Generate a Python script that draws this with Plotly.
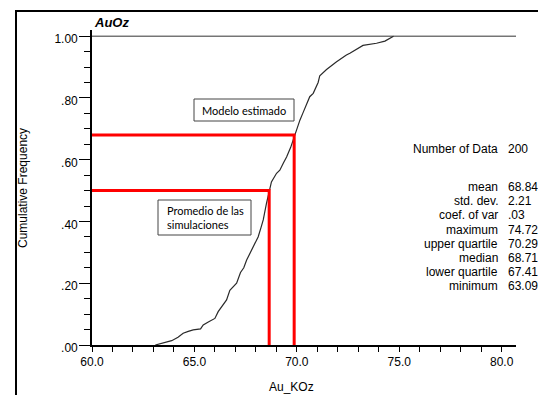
import plotly.graph_objects as go

# ---------------- data ----------------
au_koz = [63.09, 63.5, 63.89, 64.2, 64.45, 64.7, 64.94, 65.3, 65.43, 65.7, 66.0, 66.16,
          66.4, 66.57, 66.73, 66.9, 67.06, 67.25, 67.41, 67.55, 67.79, 67.95, 68.11, 68.25,
          68.36, 68.52, 68.65, 68.71, 68.76, 69.01, 69.17, 69.35, 69.5, 69.7, 69.87, 70.0,
          70.15, 70.29, 70.47, 70.63, 70.8, 70.96, 71.04, 71.12, 71.37, 71.45, 71.94, 72.2,
          72.42, 72.59, 73.07, 73.23, 73.89, 74.3, 74.72]
cum_freq = [0.0, 0.008, 0.014, 0.025, 0.038, 0.044, 0.049, 0.052, 0.065, 0.075, 0.086, 0.108,
            0.13, 0.146, 0.177, 0.19, 0.2, 0.235, 0.25, 0.275, 0.307, 0.328, 0.35, 0.38,
            0.405, 0.459, 0.5, 0.512, 0.528, 0.556, 0.566, 0.59, 0.609, 0.64, 0.675, 0.7,
            0.728, 0.75, 0.782, 0.804, 0.815, 0.838, 0.85, 0.872, 0.887, 0.892, 0.917, 0.93,
            0.939, 0.945, 0.963, 0.97, 0.977, 0.984, 1.0]

promedio_x, promedio_y = 68.65, 0.50   # "Promedio de las simulaciones"
modelo_x, modelo_y = 69.87, 0.68       # "Modelo estimado"

stat_labels = ["Number of Data", "mean", "std. dev.", "coef. of var", "maximum",
               "upper quartile", "median", "lower quartile", "minimum"]
stat_values = ["200", "68.84", "2.21", ".03", "74.72", "70.29", "68.71", "67.41", "63.09"]

x_tickvals = [60, 65, 70, 75, 80]
x_ticktext = ["60.0", "65.0", "70.0", "75.0", "80.0"]
y_tickvals = [0, 0.2, 0.4, 0.6, 0.8, 1.0]
y_ticktext = [".00", ".20", ".40", ".60", ".80", "1.00"]

# ---------------- layout geometry ----------------
W, H = 538, 395
ML, MR, MT, MB = 92, 22, 30, 50
PW, PH = W - ML - MR, H - MT - MB


def px(xp):
    return (xp - ML) / PW


def py(yp):
    return (H - MB - yp) / PH


FONT = "Liberation Sans, Arial, Helvetica, sans-serif"
BOXFONT = "Lato, Open Sans, sans-serif"

fig = go.Figure()

# line at 1.0
fig.add_trace(go.Scatter(x=[60, 80.7], y=[1.0, 1.0], mode="lines",
                         line=dict(color="#333333", width=1), hoverinfo="skip"))
# cumulative curve
fig.add_trace(go.Scatter(x=au_koz, y=cum_freq, mode="lines",
                         line=dict(color="#2a2a2a", width=1.2)))
# red guide lines
for gx, gy in [(promedio_x, promedio_y), (modelo_x, modelo_y)]:
    fig.add_trace(go.Scatter(x=[60, gx, gx], y=[gy, gy, 0], mode="lines",
                             line=dict(color="#ff0000", width=3), hoverinfo="skip"))

shapes = [
    # outer frame
    dict(type="rect", xref="paper", yref="paper", x0=px(16), x1=px(548), y0=py(11), y1=py(405),
         line=dict(color="black", width=2), fillcolor="rgba(0,0,0,0)", layer="below"),
    # text boxes
    dict(type="rect", xref="paper", yref="paper", x0=px(194), x1=px(294), y0=py(121), y1=py(99),
         line=dict(color="#444444", width=1), fillcolor="white"),
    dict(type="rect", xref="paper", yref="paper", x0=px(158), x1=px(251), y0=py(235), y1=py(200),
         line=dict(color="#444444", width=1), fillcolor="white"),
]

annotations = [
    dict(text="<b><i>AuOz</i></b>", xref="paper", yref="paper", x=px(92), y=py(22),
         xanchor="left", yanchor="middle", showarrow=False, font=dict(family=FONT, size=13, color="black")),
    dict(text="Cumulative Frequency", xref="paper", yref="paper", x=px(23), y=py(188),
         textangle=-90, xanchor="center", yanchor="middle", showarrow=False,
         font=dict(family=FONT, size=12, color="black")),
    dict(text="Au_KOz", xref="paper", yref="paper", x=px(291), y=py(387),
         xanchor="center", yanchor="middle", showarrow=False, font=dict(family=FONT, size=12, color="black")),
    dict(text="Modelo estimado", xref="paper", yref="paper", x=px(244), y=py(110),
         xanchor="center", yanchor="middle", showarrow=False, font=dict(family=BOXFONT, size=11, color="black")),
    dict(text="Promedio de las<br>simulaciones", xref="paper", yref="paper", x=px(165), y=py(217.5),
         xanchor="left", yanchor="middle", align="left", showarrow=False,
         font=dict(family=BOXFONT, size=11, color="black")),
]

stat_rows_y = [149, 187, 201, 215, 230, 244, 258, 272, 286]
for lab, val, ry in zip(stat_labels, stat_values, stat_rows_y):
    annotations.append(dict(text=lab, xref="paper", yref="paper", x=px(500), y=py(ry),
                            xanchor="right", yanchor="middle", showarrow=False,
                            font=dict(family=FONT, size=12, color="black")))
    annotations.append(dict(text=val, xref="paper", yref="paper", x=px(506), y=py(ry),
                            xanchor="left", yanchor="middle", showarrow=False,
                            font=dict(family=FONT, size=12, color="black")))

fig.update_layout(
    width=W, height=H,
    margin=dict(l=ML, r=MR, t=MT, b=MB, pad=0),
    paper_bgcolor="white", plot_bgcolor="white",
    showlegend=False,
    shapes=shapes, annotations=annotations,
    xaxis=dict(range=[60, 80.7], tickvals=x_tickvals, ticktext=x_ticktext,
               ticks="outside", ticklen=5, tickwidth=1.3, tickcolor="black",
               showline=True, linecolor="black", linewidth=1.6,
               showgrid=False, zeroline=False,
               minor=dict(dtick=1, ticks="outside", ticklen=5, tickwidth=1.3, tickcolor="black", showgrid=False),
               tickfont=dict(family=FONT, size=12, color="black")),
    yaxis=dict(range=[0, 1.02], tickvals=y_tickvals, ticktext=y_ticktext,
               ticks="outside", ticklen=11, tickwidth=1.3, tickcolor="black",
               showline=True, linecolor="black", linewidth=1.6,
               showgrid=False, zeroline=False, ticklabelshift=3, ticklabelstandoff=-1,
               minor=dict(dtick=0.05, ticks="outside", ticklen=6, tickwidth=1.3, tickcolor="black", showgrid=False),
               tickfont=dict(family=FONT, size=12, color="black")),
)

fig.write_html("out.html", config={"displayModeBar": False},
               post_script="document.body.style.margin='0';document.body.style.padding='0';document.body.style.overflow='hidden';")
